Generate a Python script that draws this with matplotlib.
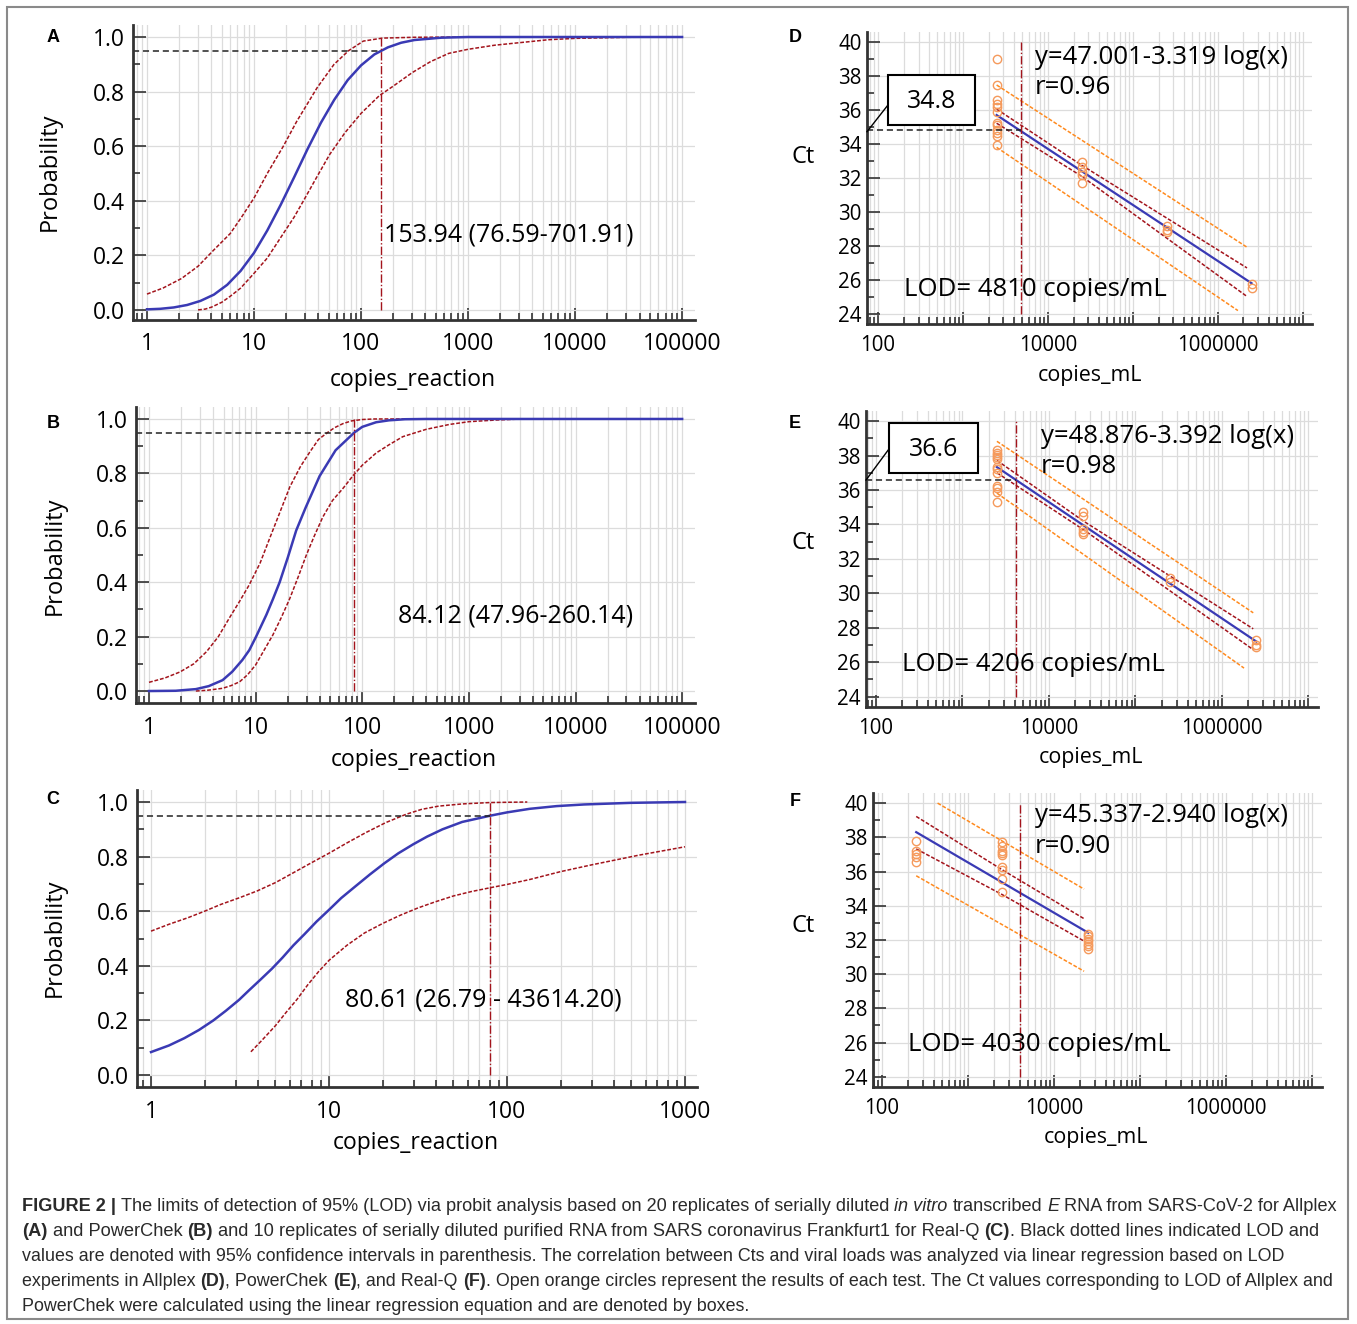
import numpy as np
import matplotlib
matplotlib.use("Agg")
import matplotlib.pyplot as plt
from matplotlib import font_manager
from matplotlib.font_manager import FontProperties
from matplotlib.patches import Rectangle
from matplotlib.ticker import LogLocator, MultipleLocator, FuncFormatter, NullFormatter

plt.rcParams['font.family'] = ['Open Sans', 'DejaVu Sans']

# ---- probit curves (copies/reaction vs probability) ----
# A  Allplex
a_x = [1, 1.33, 1.78, 2.37, 3.16, 4.22, 5.62, 7.5, 10, 13.3, 17.8, 23.7, 31.6, 42.2, 56.2, 75, 100, 133, 178,
       237, 316, 562, 1000, 100000]
a_p = [0.002, 0.004, 0.009, 0.018, 0.033, 0.056, 0.092, 0.143, 0.209, 0.291, 0.386, 0.486, 0.589, 0.686,
       0.770, 0.842, 0.896, 0.936, 0.962, 0.979, 0.989, 0.9975, 1.0, 1.0]
a_up_x = [1, 1.41, 2.1, 3, 4.22, 6, 7.5, 10, 13.3, 18.8, 25, 39, 56, 76.6, 105, 158, 316, 1000, 100000]
a_up_p = [0.058, 0.08, 0.115, 0.16, 0.22, 0.28, 0.335, 0.41, 0.50, 0.60, 0.69, 0.815, 0.90, 0.95, 0.985,
          0.996, 0.999, 1.0, 1.0]
a_lo_x = [3, 3.5, 4, 5, 6, 7.5, 10, 13.3, 18.8, 23.7, 29, 39, 51, 71, 100, 148, 200, 302, 447, 660, 1000,
          1778, 3162, 5623, 10000, 31600, 100000]
a_lo_p = [0.0, 0.003, 0.01, 0.028, 0.05, 0.08, 0.134, 0.19, 0.28, 0.34, 0.40, 0.49, 0.57, 0.65, 0.72, 0.785,
          0.82, 0.87, 0.91, 0.94, 0.955, 0.97, 0.98, 0.99, 0.995, 0.999, 1.0]
a_lod = 153.94
a_txt = "153.94 (76.59-701.91)"

# B  PowerChek
b_x = [1, 1.78, 2.75, 3.63, 4.9, 6.03, 7.5, 8.71, 10.1, 12.6, 14.5, 16.8, 20, 24, 29.5, 39.8, 56.2, 84.12,
       100, 135, 178, 251, 398, 100000]
b_p = [0.0, 0.001, 0.007, 0.018, 0.04, 0.071, 0.114, 0.15, 0.20, 0.28, 0.337, 0.40, 0.49, 0.59, 0.675, 0.79,
       0.885, 0.95, 0.971, 0.988, 0.995, 0.999, 1.0, 1.0]
b_up_x = [1, 1.41, 1.95, 2.63, 3.47, 4.47, 5.7, 7.08, 8.7, 11, 13.5, 17, 20.9, 26.3, 32.4, 38.9, 47.96, 55,
          66, 79.4, 100, 130, 100000]
b_up_p = [0.032, 0.048, 0.07, 0.10, 0.145, 0.20, 0.27, 0.33, 0.39, 0.47, 0.56, 0.66, 0.75, 0.825, 0.88,
          0.925, 0.952, 0.968, 0.983, 0.993, 0.998, 1.0, 1.0]
b_lo_x = [2.75, 3.55, 4.9, 5.89, 7.08, 8.41, 10, 12, 14.5, 17.4, 20.9, 25.1, 29.9, 35.5, 42.7, 52.5, 66,
          81.3, 100, 135, 178, 240, 398, 660, 1000, 1778, 3162, 100000]
b_lo_p = [0.0, 0.003, 0.01, 0.02, 0.034, 0.06, 0.096, 0.15, 0.206, 0.27, 0.34, 0.42, 0.50, 0.57, 0.64, 0.70,
          0.745, 0.79, 0.83, 0.875, 0.905, 0.935, 0.962, 0.98, 0.99, 0.996, 1.0, 1.0]
b_lod = 84.12
b_txt = "84.12 (47.96-260.14)"

# C  Real-Q
c_x = [1, 1.26, 1.54, 1.86, 2.24, 2.63, 3.12, 3.55, 4.13, 4.79, 5.48, 6.31, 7.26, 8.51, 10, 11.7, 14.0,
       17, 20.4, 24.5, 29.7, 35.5, 43.4, 56, 80.61, 100, 134, 190, 271, 500, 1000]
c_p = [0.084, 0.108, 0.135, 0.165, 0.20, 0.235, 0.275, 0.31, 0.35, 0.39, 0.43, 0.475, 0.515, 0.562, 0.605,
       0.648, 0.69, 0.735, 0.775, 0.812, 0.845, 0.873, 0.90, 0.927, 0.95, 0.962, 0.975, 0.985, 0.991, 0.997, 1.0]
c_up_x = [1, 1.26, 1.61, 2.0, 2.47, 3.16, 3.94, 5.01, 6.31, 7.94, 10.1, 12.6, 16.1, 20.9, 27.1, 33.1, 41.3,
          56.2, 79.8, 100, 130]
c_up_p = [0.527, 0.552, 0.576, 0.60, 0.625, 0.65, 0.674, 0.705, 0.741, 0.777, 0.814, 0.85, 0.888, 0.925,
          0.955, 0.973, 0.985, 0.993, 0.998, 0.999, 1.0]
c_lo_x = [3.64, 4.17, 4.99, 5.75, 6.61, 7.59, 8.77, 10, 12.6, 15.8, 20, 25.1, 31.6, 39.8, 50.1, 63.1, 80.5,
          100, 134, 200, 300, 548, 1000]
c_lo_p = [0.085, 0.125, 0.18, 0.23, 0.277, 0.33, 0.38, 0.42, 0.475, 0.52, 0.555, 0.585, 0.612, 0.635,
          0.656, 0.672, 0.686, 0.698, 0.716, 0.745, 0.77, 0.805, 0.836]
c_lod = 80.61
c_txt = "80.61 (26.79 - 43614.20)"

# ---- linear regression panels (copies/mL vs Ct) ----
# D  Allplex
d_conc = [2490, 24900, 249000, 2490000]
d_ct = [[39.0, 37.47, 36.59, 36.35, 36.16, 35.9, 35.25, 35.12, 34.82, 34.63, 34.47, 33.94],
        [32.96, 32.67, 32.37, 32.18, 31.72],
        [29.18, 28.94, 28.84],
        [25.75, 25.51]]
d_fit_x, d_fit_ct = [2490, 2490000], [35.7, 25.8]
d_ci_x, d_ci_hi, d_ci_lo = [2490, 24900, 2200000], [36.05, 32.75, 26.7], [35.22, 32.1, 25.02]
d_pi_hi_x, d_pi_hi = [2490, 2200000], [37.47, 27.92]
d_pi_lo_x, d_pi_lo = [2490, 1720000], [33.8, 24.19]
d_lod, d_lod_ct = 4810, 34.8
d_eq, d_r = "y=47.001-3.319 log(x)", "r=0.96"

# E  PowerChek
e_conc = [2500, 25000, 250000, 2500000]
e_ct = [[38.31, 38.15, 38.02, 37.92, 37.82, 37.33, 37.2, 37.0, 36.26, 36.11, 35.88, 35.29],
        [34.71, 34.51, 33.74, 33.58, 33.44],
        [30.91, 30.66],
        [27.28, 27.02, 26.89]]
e_fit_x, e_fit_ct = [2500, 2500000], [37.33, 27.2]
e_ci_x, e_ci_hi, e_ci_lo = [2500, 25000, 2300000], [37.72, 34.2, 27.94], [37.0, 33.7, 26.73]
e_pi_hi_x, e_pi_hi = [2500, 2300000], [38.83, 28.87]
e_pi_lo_x, e_pi_lo = [2500, 1800000], [35.82, 25.66]
e_lod, e_lod_ct = 4206, 36.6
e_eq, e_r = "y=48.876-3.392 log(x)", "r=0.98"

# F  Real-Q
f_conc = [250, 2500, 25000]
f_ct = [[37.81, 37.22, 37.02, 36.83, 36.57],
        [37.71, 37.51, 37.22, 37.08, 36.96, 36.24, 36.10, 35.55, 34.81],
        [32.36, 32.22, 32.07, 31.93, 31.79, 31.64, 31.48]]
f_fit_x, f_fit_ct = [250, 25000], [38.3, 32.42]
f_ci_x, f_ci_hi, f_ci_lo = [250, 2500, 22400], [39.22, 36.1, 33.24], [37.32, 34.65, 31.93]
f_pi_hi_x, f_pi_hi = [443, 22400], [40.0, 34.97]
f_pi_lo_x, f_pi_lo = [250, 22400], [35.75, 30.17]
f_lod = 4030
f_eq, f_r = "y=45.337-2.940 log(x)", "r=0.90"

BLUE = '#3a3ab4'
DRED = '#a3141c'
ORANGE = '#ff8a1e'
ORANGE_PT = '#f59a5c'
GRID = '#dcdcdc'
AXC = '#333333'

W, H = 1357, 1324
fig = plt.figure(figsize=(W / 100, H / 100), dpi=100)


def fx(x):
    return x / W


def fy(y):
    return 1 - y / H


def make_axes(l, t, r, b):
    ax = fig.add_axes([l / W, 1 - b / H, (r - l) / W, (b - t) / H])
    ax.set_xscale('log')
    for s in ['top', 'right']:
        ax.spines[s].set_visible(False)
    for s in ['left', 'bottom']:
        ax.spines[s].set_linewidth(2)
        ax.spines[s].set_color(AXC)
    ax.tick_params(which='both', direction='in', color=AXC, width=1.2, labelcolor='black')
    ax.tick_params(which='major', length=9)
    ax.tick_params(which='minor', length=5)
    ax.xaxis.set_major_locator(LogLocator(base=10, numticks=20))
    ax.xaxis.set_minor_locator(LogLocator(base=10, subs=np.arange(2, 10), numticks=20))
    ax.xaxis.set_minor_formatter(NullFormatter())
    ax.grid(True, which='major', axis='y', color=GRID, lw=0.9)
    ax.grid(True, which='both', axis='x', color=GRID, lw=0.9)
    ax.set_axisbelow(True)
    return ax


def probit_panel(box, xlim, ylim, x, p, ux, up, lx, lp, lod, txt, txt_x):
    ax = make_axes(*box)
    ax.set_xlim(*xlim)
    ax.set_ylim(*ylim)
    ax.yaxis.set_major_locator(MultipleLocator(0.2))
    ax.yaxis.set_minor_locator(MultipleLocator(0.1))
    ax.yaxis.set_major_formatter(FuncFormatter(lambda v, _: f'{v:.1f}'))
    ax.xaxis.set_major_formatter(FuncFormatter(lambda v, _: f'{v:.0f}'))
    ax.tick_params(axis='both', labelsize=16.5)
    ax.tick_params(axis='x', pad=9)
    ax.tick_params(axis='y', pad=6)
    ax.plot(ux, up, color=DRED, lw=1.1, ls=(0, (2.5, 1.2)))
    ax.plot(lx, lp, color=DRED, lw=1.1, ls=(0, (2.5, 1.2)))
    ax.plot(x, p, color=BLUE, lw=1.8)
    ax.plot([xlim[0], lod], [0.95, 0.95], color='#222222', lw=1.1, ls=(0, (4, 2.5)))
    ax.plot([lod, lod], [0, 1], color=DRED, lw=1.0, ls=(0, (6, 1.5, 1, 1.5)))
    ax.text(txt_x, 0.275, txt, fontsize=18, va='center', ha='left')
    return ax


def lin_panel(box, xlim, conc, ct, fx_, fct, cix, cihi, cilo, phx, ph, plx, pl, lod, eq, r, eq_x, eq_y, r_y,
              lod_txt, lod_txt_x, lod_txt_y):
    ax = make_axes(*box)
    ax.set_xlim(*xlim)
    ax.set_ylim(23.4, 40.59)
    ax.yaxis.set_major_locator(MultipleLocator(2))
    ax.yaxis.set_minor_locator(MultipleLocator(1))
    ax.xaxis.set_major_formatter(FuncFormatter(
        lambda v, _: f'{v:.0f}' if int(round(np.log10(v))) % 2 == 0 else ''))
    ax.tick_params(axis='both', labelsize=14.8)
    ax.tick_params(axis='x', pad=8)
    ax.tick_params(axis='y', pad=4)
    ax.plot(phx, ph, color=ORANGE, lw=1.1, ls=(0, (2.5, 1.2)))
    ax.plot(plx, pl, color=ORANGE, lw=1.1, ls=(0, (2.5, 1.2)))
    ax.plot(cix, cihi, color=DRED, lw=1.1, ls=(0, (2.5, 1.2)))
    ax.plot(cix, cilo, color=DRED, lw=1.1, ls=(0, (2.5, 1.2)))
    ax.plot(fx_, fct, color=BLUE, lw=1.6)
    for c, vals in zip(conc, ct):
        ax.plot([c] * len(vals), vals, 'o', mfc='none', mec=ORANGE_PT, ms=6, mew=1.0)
    ax.plot([lod, lod], [24, 40], color=DRED, lw=1.0, ls=(0, (6, 1.5, 1, 1.5)))
    ax.text(eq_x, eq_y, eq, fontsize=18.5, va='center', ha='left')
    ax.text(eq_x, r_y, r, fontsize=18.5, va='center', ha='left')
    ax.text(lod_txt_x, lod_txt_y, lod_txt, fontsize=18.5, va='center', ha='left')
    return ax


def ct_box(ax, lod, ct, x0, x1, y0, y1, lead_y0, lead_y1):
    xl = ax.get_xlim()[0]
    ax.plot([xl, lod], [ct, ct], color='#222222', lw=1.1, ls=(0, (4, 2.5)))
    ax.add_patch(Rectangle((x0, y0), x1 - x0, y1 - y0, fc='white', ec='black', lw=1.5, zorder=5))
    ax.plot([xl, x0], [lead_y0, lead_y1], color='black', lw=1.0, zorder=5, clip_on=False)
    ax.text(np.sqrt(x0 * x1), (y0 + y1) / 2 - 0.1, f'{ct:.1f}', fontsize=18, ha='center', va='center', zorder=6)


# probit panels
probit_panel((133, 25, 695, 320), (0.74, 1.32e5), (-0.037, 1.044),
             a_x, a_p, a_up_x, a_up_p, a_lo_x, a_lo_p, a_lod, a_txt, 164)
probit_panel((136, 407, 695, 703), (0.755, 1.32e5), (-0.044, 1.044),
             b_x, b_p, b_up_x, b_up_p, b_lo_x, b_lo_p, b_lod, b_txt, 216)
probit_panel((137, 790, 697, 1087), (0.834, 1168), (-0.044, 1.044),
             c_x, c_p, c_up_x, c_up_p, c_lo_x, c_lo_p, c_lod, c_txt, 12.3)

# regression panels
axd = lin_panel((867, 32, 1312, 324), (74.3, 1.28e7), d_conc, d_ct, d_fit_x, d_fit_ct,
                d_ci_x, d_ci_hi, d_ci_lo, d_pi_hi_x, d_pi_hi, d_pi_lo_x, d_pi_lo, d_lod,
                d_eq, d_r, 7030, 39.1, 37.3, f"LOD= {d_lod} copies/mL", 202, 25.45)
ct_box(axd, d_lod, d_lod_ct, 131, 1384, 35.12, 38.06, 34.72, 36.29)

axe = lin_panel((866, 411, 1318, 707), (76.6, 1.29e7), e_conc, e_ct, e_fit_x, e_fit_ct,
                e_ci_x, e_ci_hi, e_ci_lo, e_pi_hi_x, e_pi_hi, e_pi_lo_x, e_pi_lo, e_lod,
                e_eq, e_r, 8100, 39.13, 37.39, f"LOD= {e_lod} copies/mL", 200, 25.85)
ct_box(axe, e_lod, e_lod_ct, 141, 1510, 36.99, 39.88, 36.58, 38.38)

lin_panel((873, 793, 1322, 1087), (78.6, 1.31e7), f_conc, f_ct, f_fit_x, f_fit_ct,
          f_ci_x, f_ci_hi, f_ci_lo, f_pi_hi_x, f_pi_hi, f_pi_lo_x, f_pi_lo, f_lod,
          f_eq, f_r, 6000, 39.3, 37.47, f"LOD= {f_lod} copies/mL", 200, 25.9)

# axis titles and panel letters
for lab, x, y in [('A', 53, 37), ('B', 53, 423), ('C', 53, 800),
                  ('D', 795, 37), ('E', 795, 423), ('F', 795, 802)]:
    fig.text(fx(x), fy(y), lab, fontsize=13, fontweight='bold', family='Liberation Sans',
             ha='center', va='center')
for x, y in [(50, 172), (55, 556), (55, 938)]:
    fig.text(fx(x), fy(y), 'Probability', fontsize=17, rotation=90, ha='center', va='center')
for x, y in [(413, 380), (414, 760), (416, 1143)]:
    fig.text(fx(x), fy(y), 'copies_reaction', fontsize=16.5, ha='center', va='center')
for x, y in [(803, 157), (803, 543), (803, 926)]:
    fig.text(fx(x), fy(y), 'Ct', fontsize=17, ha='center', va='center')
for x, y in [(1090, 375), (1091, 758), (1096, 1138)]:
    fig.text(fx(x), fy(y), 'copies_mL', fontsize=15.4, ha='center', va='center')

# outer frame
fig.add_artist(Rectangle((fx(7), fy(1319)), (1348 - 7) / W, (1319 - 7) / H,
                         transform=fig.transFigure, fill=False, ec='#8a8a8a', lw=1.5))

# caption
names = {f.name for f in font_manager.fontManager.ttflist}
cap_font = 'Liberation Sans Narrow' if 'Liberation Sans Narrow' in names else 'Liberation Sans'
N, B, I = ('normal', 'normal'), ('bold', 'normal'), ('normal', 'italic')
cap_lines = [
    [("FIGURE 2 |", B), (" The limits of detection of 95% (LOD) via probit analysis based on 20 replicates of serially diluted ", N),
     ("in vitro", I), (" transcribed ", N), ("E", I), (" RNA from SARS-CoV-2 for Allplex", N)],
    [("(A)", B), (" and PowerChek ", N), ("(B)", B),
     (" and 10 replicates of serially diluted purified RNA from SARS coronavirus Frankfurt1 for Real-Q ", N),
     ("(C)", B), (". Black dotted lines indicated LOD and", N)],
    [("values are denoted with 95% confidence intervals in parenthesis. The correlation between Cts and viral loads was analyzed via linear regression based on LOD", N)],
    [("experiments in Allplex ", N), ("(D)", B), (", PowerChek ", N), ("(E)", B), (", and Real-Q ", N), ("(F)", B),
     (". Open orange circles represent the results of each test. The Ct values corresponding to LOD of Allplex and", N)],
    [("PowerChek were calculated using the linear regression equation and are denoted by boxes.", N)],
]
cap_right = [1338, 1326, 1287, 1338, 752]
renderer = fig.canvas.get_renderer()


def tw(s, prop):
    return renderer.get_text_width_height_descent(s, prop, ismath=False)[0]


def run_line(runs, size, x0, y, draw):
    x = x0
    for text, (wt, st) in runs:
        prop = FontProperties(family=cap_font, size=size, weight=wt, style=st)
        sp = tw('a a', prop) - tw('aa', prop)
        core = text.strip(' ')
        x += (len(text) - len(text.lstrip(' '))) * sp
        if draw:
            fig.text(fx(x), fy(y), core, fontproperties=prop, color='#2a2a2a', ha='left', va='baseline')
        x += tw(core, prop) + (len(text) - len(text.rstrip(' '))) * sp
    return x - x0


size0 = 12.0
for i, runs in enumerate(cap_lines):
    width0 = run_line(runs, size0, 22, 0, False)
    size = size0 * (cap_right[i] - 22) / width0
    run_line(runs, size, 22, 1211 + 25 * i, True)

fig.savefig('out.png', dpi=100)
